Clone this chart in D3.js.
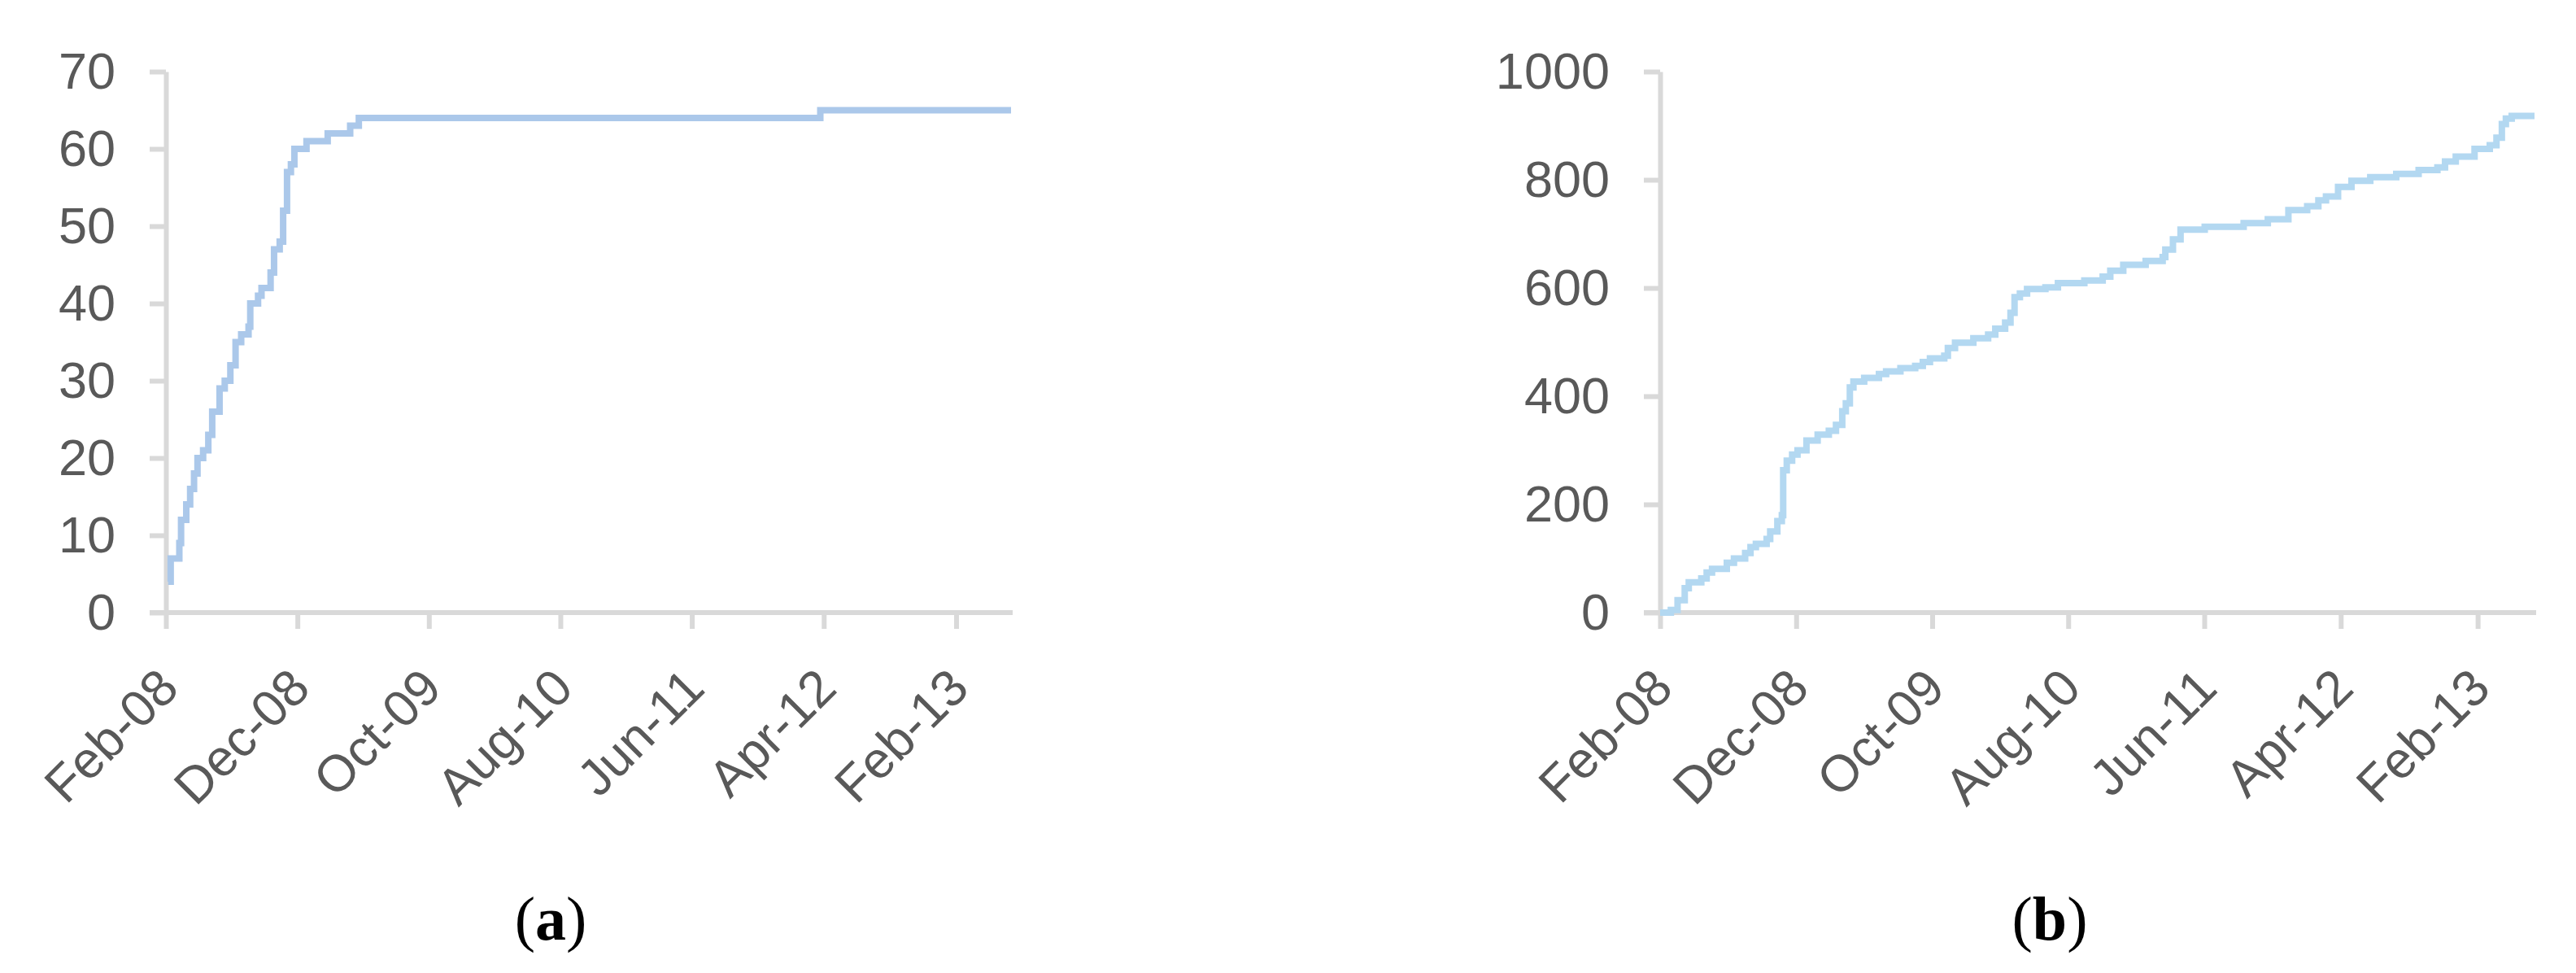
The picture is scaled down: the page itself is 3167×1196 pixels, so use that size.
<!DOCTYPE html>
<meta charset="utf-8">
<head>
<style type='text/css'>
  body {
    margin: 0;
    background: #fff;
  }
  .axis path,
  .axis line {
    stroke: #d9d9d9;
    stroke-width: 6px;
  }
  .axis text {
    font-family: 'Liberation Sans', Arial, sans-serif;
    font-size: 63px;
    fill: #595959;
  }
  .caption {
    font-family: 'Liberation Serif', 'Times New Roman', serif;
    font-size: 76px;
    fill: #000;
  }
</style>
</head>
<body>
<svg id="fig" width="3167" height="1196"></svg>
<script src="https://d3js.org/d3.v7.min.js"></script>
<script>
// x ticks shared by both panels (every 10 months)
var xTickLabels = ["Feb-08", "Dec-08", "Oct-09", "Aug-10", "Jun-11", "Apr-12", "Feb-13"];
var xStart = "2008-02-01",
    xEnd = "2013-06-08";

// panel (a): cumulative count, 0-70
var aDates = ["2008-02-06", "2008-02-12", "2008-03-03", "2008-03-07", "2008-03-19", "2008-03-28",
  "2008-04-06", "2008-04-14", "2008-04-27", "2008-05-09", "2008-05-18", "2008-06-04", "2008-06-16",
  "2008-06-29", "2008-07-11", "2008-07-24", "2008-08-10", "2008-08-14", "2008-09-01", "2008-09-09",
  "2008-09-30", "2008-10-08", "2008-10-21", "2008-10-29", "2008-11-07", "2008-11-16", "2008-11-24",
  "2008-12-22", "2009-02-09", "2009-04-02", "2009-04-22", "2012-03-24", "2013-06-08"];
var aCounts = [4, 7, 9, 12, 14, 16, 18, 20, 21, 23, 26, 29, 30, 32, 35, 36, 37, 40, 41, 42,
  44, 47, 48, 52, 57, 58, 60, 61, 62, 63, 64, 65, 65];
var aYTicks = [0, 10, 20, 30, 40, 50, 60, 70];

// panel (b): cumulative count, 0-1000
var bDates = ["2008-02-01", "2008-02-25", "2008-03-11", "2008-03-27", "2008-04-05", "2008-05-03",
  "2008-05-15", "2008-05-27", "2008-06-29", "2008-07-15", "2008-08-09", "2008-08-21", "2008-09-02",
  "2008-09-26", "2008-10-04", "2008-10-20", "2008-10-30", "2008-11-02", "2008-11-10", "2008-11-22",
  "2008-12-04", "2008-12-24", "2009-01-18", "2009-02-12", "2009-02-28", "2009-03-14", "2009-03-22",
  "2009-03-31", "2009-04-08", "2009-05-02", "2009-06-04", "2009-06-20", "2009-07-22", "2009-08-24",
  "2009-09-10", "2009-09-26", "2009-10-28", "2009-11-05", "2009-11-21", "2010-01-01", "2010-02-03",
  "2010-02-19", "2010-03-13", "2010-03-25", "2010-04-03", "2010-04-15", "2010-05-01", "2010-06-11",
  "2010-07-09", "2010-09-06", "2010-10-17", "2010-11-03", "2010-12-02", "2011-01-21", "2011-02-28",
  "2011-03-06", "2011-03-23", "2011-04-09", "2011-06-02", "2011-08-28", "2011-10-21", "2011-12-06",
  "2012-01-17", "2012-02-11", "2012-02-28", "2012-03-26", "2012-04-25", "2012-06-06", "2012-08-03",
  "2012-09-22", "2012-11-03", "2012-11-20", "2012-12-14", "2013-01-25", "2013-02-28", "2013-03-15",
  "2013-03-27", "2013-04-05", "2013-04-18", "2013-06-08"];
var bCounts = [0, 5, 23, 45, 56, 63, 74, 81, 92, 100, 110, 121, 127, 136, 150, 169, 180, 263, 281, 292,
  300, 318, 329, 336, 347, 372, 387, 416, 427, 434, 441, 446, 452, 456, 463, 470, 475, 489, 499, 507,
  514, 525, 536, 554, 583, 590, 598, 601, 609, 614, 621, 632, 643, 650, 657, 671, 690, 708, 713, 720,
  727, 744, 751, 762, 769, 787, 798, 805, 811, 818, 823, 834, 843, 857, 864, 878, 903, 913, 918, 918];
var bYTicks = [0, 200, 400, 600, 800, 1000];

var parse = d3.timeParse("%Y-%m-%d"),
    fmt = d3.timeFormat("%b-%y");
var tickDates = xTickLabels.map(function(s) { return d3.timeParse("%b-%y")(s); });

var svg = d3.select("#fig");

function drawPanel(p) {
  var x = d3.scaleTime()
      .domain([parse(xStart), parse(xEnd)])
      .range([p.left, p.right]);
  var y = d3.scaleLinear()
      .domain([0, p.yMax])
      .range([p.bottom, p.top]);

  var g = svg.append("g");

  // y axis
  g.append("g")
      .attr("class", "axis")
      .attr("transform", "translate(" + p.left + ",0)")
      .call(d3.axisLeft(y).tickValues(p.yTicks).tickFormat(d3.format("d"))
        .tickSize(20).tickSizeOuter(0).tickPadding(42));

  // x axis with rotated date labels
  var xa = g.append("g")
      .attr("class", "axis")
      .attr("transform", "translate(0," + p.bottom + ")")
      .call(d3.axisBottom(x).tickValues(tickDates).tickFormat(fmt).tickSize(20).tickSizeOuter(0));
  xa.select(".domain").attr("d", "M" + (p.left - 20) + ",0H" + (p.right + 2));
  xa.selectAll("text")
      .attr("text-anchor", "end")
      .attr("y", 0)
      .attr("dy", 0)
      .attr("transform", "translate(18,96) rotate(-45)");
  g.selectAll(".axis path").attr("fill", "none");

  // cumulative step line
  var pts = p.dates.map(function(d, i) { return [parse(d), p.counts[i]]; });
  g.append("path")
      .datum(pts)
      .attr("fill", "none")
      .attr("stroke", p.color)
      .attr("stroke-width", 8)
      .attr("d", d3.line()
          .curve(d3.curveStepAfter)
          .x(function(d) { return x(d[0]); })
          .y(function(d) { return y(d[1]); }));

  // caption
  var cap = g.append("text")
      .attr("class", "caption")
      .attr("x", p.capX)
      .attr("y", 1155)
      .attr("text-anchor", "middle");
  cap.append("tspan").text("(");
  cap.append("tspan").attr("font-weight", "bold").text(p.label);
  cap.append("tspan").text(")");
}

drawPanel({left: 204, right: 1243, top: 88, bottom: 753, yMax: 70, yTicks: aYTicks,
  dates: aDates, counts: aCounts, color: "#abc8ea", label: "a", capX: 677});
drawPanel({left: 2041, right: 3116, top: 88, bottom: 753, yMax: 1000, yTicks: bYTicks,
  dates: bDates, counts: bCounts, color: "#b3d8f1", label: "b", capX: 2520});
</script>
</body>
